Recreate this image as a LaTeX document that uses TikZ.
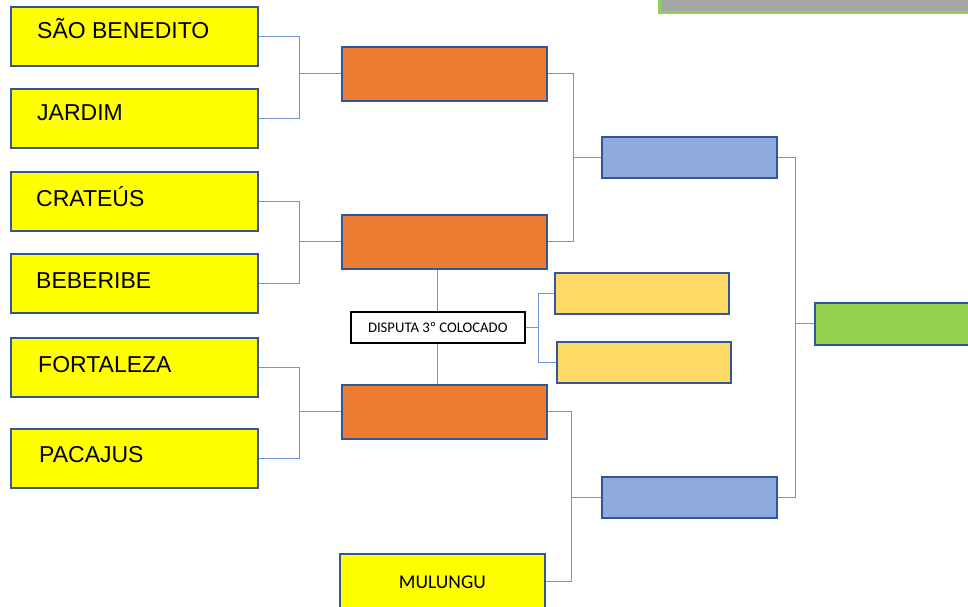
\documentclass[tikz,border=0pt]{standalone}
\usepackage{fontspec}
\setmainfont{Liberation Sans}
\newfontfamily\calib{Carlito}
\definecolor{teamyellow}{HTML}{FFFF00}
\definecolor{orangebox}{HTML}{ED7D31}
\definecolor{bluebox}{HTML}{8FAADC}
\definecolor{lightyellow}{HTML}{FFD966}
\definecolor{greenbox}{HTML}{92D050}
\definecolor{greenline}{HTML}{8ED14F}
\definecolor{graybar}{HTML}{A6A6A6}
\definecolor{boxline}{HTML}{33569A}
\definecolor{connline}{HTML}{6F95D8}
\begin{document}
\begin{tikzpicture}[x=1pt,y=-1pt,
  box/.style={rectangle, draw=boxline, line width=1.8pt, anchor=north west, inner sep=0pt},
  teambox/.style={box, fill=teamyellow, minimum width=247pt, minimum height=59pt},
  semibox/.style={box, fill=orangebox, minimum width=205pt, minimum height=54pt},
  finalbox/.style={box, fill=bluebox, minimum width=175pt, minimum height=41pt},
  thirdbox/.style={box, fill=lightyellow, minimum width=174pt, minimum height=41pt},
  teamtxt/.style={anchor=base west, inner sep=0pt, font=\fontsize{23}{27}\selectfont},
  conn/.style={draw=connline, line width=1pt}
]
\useasboundingbox (0,0) rectangle (968,607);

% top-right bar
\filldraw[fill=graybar, draw=greenline, line width=3.5pt] (660,-10) rectangle (985,12.5);

% first round teams
\node[teambox] (sb) at (10,6) {};
\node[teambox] (ja) at (10,88) {};
\node[teambox] (cr) at (10,171) {};
\node[teambox] (be) at (10,253) {};
\node[teambox] (fo) at (10,337) {};
\node[teambox] (pa) at (10,428) {};
\node[teamtxt] (tsb) at (37,39) {SÃO BENEDITO};
\node[teamtxt] (tja) at (37,121) {JARDIM};
\node[teamtxt] (tcr) at (36,206) {CRATEÚS};
\node[teamtxt] (tbe) at (36,288) {BEBERIBE};
\node[teamtxt] (tfo) at (38,372) {FORTALEZA};
\node[teamtxt] (tpa) at (39,462) {PACAJUS};

% second round
\node[semibox] (o1) at (341,46) {};
\node[semibox] (o2) at (341,214) {};
\node[semibox] (o3) at (341,384) {};
\node[box, fill=teamyellow, minimum width=205pt, minimum height=56pt, font=\calib\fontsize{19.5}{23}\selectfont] (mu) at (339,553) {MULUNGU};

% third place
\node[box, fill=white, draw=black, line width=1.5pt, minimum width=174pt, minimum height=31pt, font=\calib\fontsize{14.7}{17}\selectfont] (disp) at (350,311) {DISPUTA 3º COLOCADO};
\node[thirdbox] (ly1) at (554,272) {};
\node[thirdbox] (ly2) at (556,341) {};

% semi-finals / final
\node[finalbox] (b1) at (601,136) {};
\node[finalbox] (b2) at (601,476) {};
\node[box, fill=greenbox, minimum width=170pt, minimum height=42pt] (gr) at (814,302) {};

% connectors: first round
\draw[conn] (sb.east) -- (sb.east -| 299,0) -- (ja.east -| 299,0) -- (ja.east);
\draw[conn] (o1.west) -- (o1.west -| 299,0);
\draw[conn] (cr.east) -- (cr.east -| 299,0) -- (be.east -| 299,0) -- (be.east);
\draw[conn] (o2.west) -- (o2.west -| 299,0);
\draw[conn] (fo.east) -- (fo.east -| 299,0) -- (pa.east -| 299,0) -- (pa.east);
\draw[conn] (o3.west) -- (o3.west -| 299,0);

% connectors: second round
\draw[conn] (o1.east) -- (o1.east -| 573,0) -- (o2.east -| 573,0) -- (o2.east);
\draw[conn] (b1.west) -- (b1.west -| 573,0);
\draw[conn] (o3.east) -- (o3.east -| 571,0) -- (mu.east -| 571,0) -- (mu.east);
\draw[conn] (b2.west) -- (b2.west -| 571,0);

% connectors: final
\draw[conn] (b1.east) -- (b1.east -| 795,0) -- (b2.east -| 795,0) -- (b2.east);
\draw[conn] (gr.west) -- (gr.west -| 795,0);

% connectors: third place
\draw[conn] (disp.north) -- (disp.north |- o2.south);
\draw[conn] (disp.south) -- (disp.south |- o3.north);
\draw[conn] (disp.east) -- (disp.east -| 538,0);
\draw[conn] (ly1.west) -- (ly1.west -| 538,0) -- (ly2.west -| 538,0) -- (ly2.west);
\end{tikzpicture}
\end{document}
